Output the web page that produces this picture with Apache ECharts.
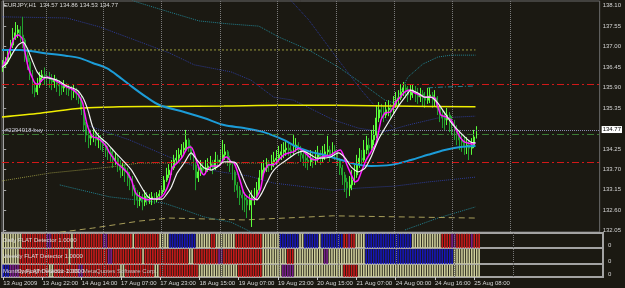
<!DOCTYPE html>
<html><head><meta charset="utf-8">
<script src="https://cdn.jsdelivr.net/npm/echarts@6/dist/echarts.min.js"></script>
<style>html,body{margin:0;padding:0;background:#1b1912;overflow:hidden}#c{width:625px;height:288px}</style>
</head><body><div id="c"></div><script>
// ---------- data ----------
const symbolTitle = 'EURJPY,H1  134.57 134.86 134.53 134.77';
const firstOpen = 136.44;
const closes = [
136.51,136.59,136.77,137.04,137.23,137.37,137.45,137.31,137.18,136.77,
136.59,136.24,135.89,135.78,135.97,136.16,136.24,136.21,136.16,136.10,
136.05,136.10,135.99,135.94,135.89,135.94,135.89,135.83,135.78,135.83,
135.73,135.62,135.30,134.89,134.62,134.54,134.60,134.65,134.49,134.54,
134.43,134.35,134.22,134.17,134.06,133.95,134.00,133.82,133.68,133.74,
133.63,133.47,133.41,133.20,133.01,132.88,132.93,132.82,132.98,132.88,
132.90,132.96,132.88,132.98,133.04,133.14,133.41,133.55,133.68,133.74,
133.95,134.00,134.09,134.22,134.27,134.49,134.27,134.09,133.82,133.47,
133.63,133.74,133.68,133.74,133.79,133.84,133.74,133.95,133.90,133.95,
134.09,134.17,133.95,133.82,133.63,133.28,133.14,133.01,132.93,132.88,
132.74,132.88,132.93,133.01,133.14,133.47,133.68,133.74,133.82,133.79,
133.90,133.95,134.00,134.09,134.17,134.22,134.27,134.22,134.17,134.30,
134.35,134.22,134.09,134.00,133.95,133.90,134.00,133.95,134.03,134.09,
134.00,134.11,134.17,134.22,134.09,134.22,134.17,133.95,133.74,133.55,
133.36,133.20,133.28,133.41,133.55,133.82,134.00,133.95,134.22,134.35,
134.27,134.49,134.62,135.08,135.30,135.24,135.16,135.30,135.35,135.24,
135.43,135.56,135.62,135.78,135.89,135.83,135.70,135.78,135.83,135.70,
135.65,135.73,135.62,135.56,135.67,135.70,135.56,135.62,135.35,135.16,
135.08,135.03,135.16,134.97,134.89,134.76,134.62,134.49,134.43,134.33,
134.35,134.27,134.35,134.57,134.77];
const highs = [
136.64,136.72,136.91,137.18,137.50,137.66,137.58,137.55,137.80,137.23,
136.91,136.69,136.37,136.05,136.16,136.32,136.37,136.44,136.32,136.32,
136.26,136.24,136.16,136.10,136.05,136.10,136.02,135.99,135.94,135.97,
135.89,135.83,135.70,135.35,134.97,134.81,134.76,134.81,134.70,134.68,
134.62,134.54,134.43,134.33,134.27,134.22,134.17,134.09,133.95,133.90,
133.84,133.74,133.63,133.52,133.28,133.14,133.09,133.04,133.14,133.09,
133.04,133.09,133.06,133.09,133.14,133.28,133.52,133.74,133.84,133.95,
134.09,134.22,134.27,134.38,134.43,134.76,134.54,134.35,134.17,133.90,
133.82,133.95,133.90,133.95,134.00,134.06,133.95,134.17,134.09,134.22,
134.49,134.38,134.22,134.06,133.90,133.68,133.36,133.25,133.14,133.09,
132.98,133.04,133.14,133.20,133.36,133.68,133.90,133.95,134.00,133.95,
134.09,134.17,134.22,134.33,134.38,134.43,134.49,134.43,134.35,134.62,
134.54,134.43,134.33,134.22,134.17,134.11,134.22,134.17,134.22,134.33,
134.22,134.33,134.38,134.60,134.33,134.43,134.35,134.22,134.00,133.82,
133.63,133.47,133.52,133.68,133.82,134.09,134.27,134.22,134.49,134.60,
134.54,134.76,134.89,135.43,135.51,135.46,135.40,135.51,135.56,135.46,
135.67,135.78,135.83,135.99,136.05,135.99,135.94,135.97,135.99,135.94,
135.89,135.89,135.83,135.78,135.89,135.89,135.78,135.83,135.67,135.43,
135.30,135.24,135.35,135.24,135.13,135.03,134.89,134.76,134.65,134.60,
134.57,134.49,134.54,134.76,134.86];
const lows = [
136.32,136.44,136.53,136.69,136.96,137.18,137.23,137.12,136.96,136.59,
136.37,136.10,135.73,135.64,135.70,135.89,136.05,135.97,135.94,135.89,
135.83,135.89,135.78,135.67,135.70,135.78,135.70,135.67,135.56,135.62,
135.56,135.46,135.16,134.70,134.43,134.27,134.35,134.43,134.33,134.27,
134.22,134.17,134.03,133.95,133.90,133.74,133.82,133.63,133.47,133.52,
133.36,133.25,133.14,132.98,132.74,132.66,132.71,132.60,132.71,132.74,
132.77,132.74,132.77,132.82,132.88,132.93,133.09,133.36,133.47,133.55,
133.68,133.84,133.90,134.00,134.09,134.22,134.17,133.95,133.68,133.14,
133.36,133.52,133.55,133.57,133.63,133.68,133.57,133.68,133.74,133.79,
133.90,133.95,133.79,133.63,133.41,133.09,132.93,132.74,132.60,132.55,
132.39,132.60,132.15,132.74,132.88,133.09,133.41,133.55,133.63,133.63,
133.68,133.76,133.82,133.90,133.95,134.00,134.06,134.06,134.00,134.09,
134.17,134.06,133.90,133.79,133.74,133.68,133.79,133.74,133.82,133.90,
133.82,133.90,133.95,134.03,133.90,134.00,133.95,133.79,133.55,133.28,
133.09,132.93,132.98,133.14,133.28,133.47,133.74,133.79,133.90,134.11,
134.09,134.22,134.35,134.54,134.97,135.03,134.97,135.08,135.13,135.08,
135.19,135.35,135.43,135.56,135.67,135.62,135.51,135.56,135.62,135.51,
135.46,135.51,135.40,135.35,135.46,135.48,135.35,135.40,135.16,134.97,
134.81,134.76,134.89,134.70,134.62,134.49,134.35,134.22,134.17,134.09,
134.11,133.95,134.09,134.27,134.53];

// moving averages: [bar position, price]
const magentaMA = [[-0.4,136.45],[1.6,136.69],[3.7,137.10],[4.9,137.26],[6.1,137.31],[7.7,137.23],[9.0,136.83],[10.2,136.45],[11.8,136.18],[13.0,136.02],[14.3,135.99],[15.9,136.10],[17.9,136.18],[20.4,136.13],[22.4,136.05],[24.5,135.97],[26.1,135.91],[28.1,135.86],[30.2,135.75],[31.4,135.64],[32.6,135.48],[33.4,135.21],[34.2,134.95],[35.5,134.70],[36.7,134.57],[38.7,134.54],[40.8,134.43],[42.4,134.30],[43.6,134.14],[44.8,134.03],[46.5,133.87],[48.5,133.76],[50.6,133.63],[52.6,133.41],[53.8,133.14],[55.0,133.01],[57.1,132.93],[59.1,132.88],[61.1,132.90],[64.0,132.93],[66.0,133.04],[68.1,133.36],[69.3,133.74],[71.3,133.87],[73.4,134.03],[75.4,134.27],[77.0,134.30],[78.3,134.14],[79.5,133.87],[81.1,133.63],[82.3,133.55],[83.6,133.68],[85.6,133.79],[88.5,133.79],[90.5,134.00],[91.7,134.03],[93.4,133.90],[94.6,133.87],[95.8,133.68],[97.4,133.33],[98.7,133.06],[100.7,132.93],[102.7,132.88],[104.0,132.96],[105.6,133.20],[106.8,133.60],[108.8,133.82],[110.9,133.82],[112.9,133.95],[115.0,134.09],[117.0,134.14],[119.0,134.17],[121.1,134.27],[122.3,134.22],[124.3,134.11],[126.4,133.98],[128.4,133.95],[130.5,134.03],[132.5,134.06],[134.5,134.09],[136.2,134.17],[138.2,134.22],[139.4,134.09],[140.6,133.87],[142.7,133.55],[144.3,133.36],[145.5,133.41],[146.8,133.63],[148.8,133.95],[150.8,134.17],[152.9,134.41],[154.9,135.03],[156.5,135.21],[158.6,135.24],[159.8,135.35],[161.0,135.51],[162.7,135.64],[164.7,135.78],[166.7,135.83],[168.8,135.75],[170.8,135.70],[172.8,135.64],[174.9,135.64],[176.9,135.62],[178.2,135.38],[179.4,135.16],[181.4,135.11],[183.5,135.03],[185.1,134.84],[186.3,134.68],[187.5,134.54],[189.2,134.43],[190.4,134.41],[192.4,134.38],[193.6,134.41]];
const whiteMA = [[-0.4,136.44],[1.6,136.56],[4.1,136.85],[6.1,137.04],[8.2,137.12],[9.8,136.96],[11.8,136.64],[13.9,136.32],[15.9,136.18],[18.3,136.16],[22.0,136.10],[26.1,135.94],[30.2,135.83],[32.6,135.64],[34.7,135.30],[36.7,134.84],[39.5,134.57],[42.4,134.41],[45.7,134.17],[48.9,133.95],[52.6,133.68],[55.0,133.41],[57.9,133.09],[59.9,132.93],[62.8,132.90],[65.2,132.90],[67.3,133.06],[68.9,133.22],[71.3,133.60],[74.2,133.87],[77.0,134.14],[79.5,133.95],[82.3,133.74],[85.2,133.68],[87.6,133.76],[90.5,133.90],[93.4,133.90],[95.4,133.87],[97.4,133.60],[99.9,133.22],[102.7,132.93],[104.0,132.88],[106.0,133.06],[108.0,133.33],[110.1,133.60],[112.1,133.76],[115.0,133.90],[117.8,134.03],[120.3,134.14],[123.1,134.19],[126.0,134.09],[128.4,134.00],[131.3,134.00],[134.1,134.03],[137.4,134.14],[140.2,134.00],[142.7,133.76],[145.5,133.63],[148.4,133.74],[150.8,134.03],[153.7,134.49],[156.5,134.81],[159.0,135.08],[161.8,135.38],[164.7,135.64],[167.1,135.83],[170.0,135.75],[172.8,135.64],[175.3,135.64],[178.2,135.48],[181.0,135.21],[183.5,134.97],[186.3,134.76],[189.2,134.57],[191.7,134.43],[193.6,134.41]];
const cyanMA = [[-0.5,136.91],[6.9,136.91],[16.3,136.83],[26.1,136.75],[31.4,136.69],[36.7,136.56],[42.4,136.42],[47.7,136.18],[53.0,135.91],[58.7,135.64],[64.0,135.43],[74.2,135.24],[82.3,135.08],[90.5,134.89],[98.7,134.81],[106.8,134.70],[115.0,134.49],[120.3,134.30],[126.0,134.17],[131.3,134.09],[138.6,133.95],[144.3,133.84],[150.8,133.79],[159.0,133.82],[167.1,133.95],[174.1,134.09],[181.0,134.22],[187.5,134.30],[193.6,134.33]];
const yellowMA = [[-0.5,135.11],[15.1,135.21],[32.6,135.35],[47.7,135.38],[68.1,135.39],[90.5,135.40],[113.8,135.42],[135.3,135.42],[160.0,135.40],[193.6,135.38]];

// band / envelope curves (dotted)
const bandUpperOuter = [[41.6,138.58],[54.6,138.20],[68.1,137.93],[80.3,137.69],[92.5,137.61],[104.8,137.55],[112.9,137.26],[125.2,136.91],[137.4,136.45],[146.8,136.02],[156.5,135.56],[160.6,135.48],[165.9,136.18],[172.0,136.53],[178.2,136.72],[183.5,136.77],[193.6,136.77]];
const bandUpper = [[-0.4,137.80],[26.1,137.77],[39.5,137.53],[51.8,137.23],[68.1,136.83],[78.3,136.51],[93.4,136.32],[101.5,136.10],[110.9,135.64],[119.0,135.56],[135.3,135.03],[145.5,134.81],[155.7,134.70],[165.9,134.89],[178.2,135.08],[193.6,135.13]];
const bandSteep = [[117.8,138.25],[125.2,137.72],[131.3,137.18],[137.4,136.64],[146.8,135.83],[153.7,135.30],[159.8,134.81]];
const bandShortUpper = [[174.1,135.89],[179.4,135.91],[193.2,135.94]];
const bandOlive = [[-0.4,133.39],[19.2,133.60],[43.6,133.76],[55.9,133.87],[68.1,133.87],[121.1,133.87]];
const bandLower = [[34.2,134.89],[51.8,134.49],[68.1,134.03],[80.3,133.74],[89.3,133.63],[100.7,133.52],[110.9,133.33],[135.3,133.14],[146.8,133.20],[160.6,133.25],[174.1,133.36],[193.6,133.49]];
const bandLowerOuter = [[23.2,133.28],[43.6,132.96],[66.0,132.79],[74.2,132.61],[82.3,132.42],[93.4,132.28],[99.9,132.07],[104.8,131.91]];
const bandLowerRight = [[164.7,132.07],[178.2,132.39],[193.6,132.69]];
const bandBottom = [[23.2,132.01],[36.7,132.12],[55.9,132.31],[68.1,132.39],[98.7,132.34],[135.3,132.45],[193.6,132.39]];
const levelOlive = [[-0.5,136.91],[193.6,136.91]];

// horizontal levels
const redLevels = [135.99, 133.90];
const stopLevel = 134.65;
const orderLevel = 134.74;
const orderText = '#2294918 buy';
const lastPrice = 134.77;

// axes
const priceTicks = [132.05,132.60,133.15,133.70,134.25,135.35,135.90,136.45,137.00,137.55,138.10];
const timeLabels = ['13 Aug 2009','13 Aug 22:00','14 Aug 14:00','17 Aug 07:00','17 Aug 23:00','18 Aug 15:00','19 Aug 07:00','19 Aug 23:00','20 Aug 15:00','21 Aug 07:00','24 Aug 00:00','24 Aug 16:00','25 Aug 08:00'];
const timeLabelBars = [0,16,32,48,64,80,96,112,128,144,160,176,192];
const gridBars = [17.5,41.2,64.8,88.9,112.5,136.6,160.2,183.9,207.9];
const totalSlots = 245;

// FLAT detector states per bar (run lengths): R red, B blue, P purple, K khaki
const dailyRuns = [['K',8],['R',10],['P',2],['R',8],['K',1],['R',12],['P',2],['R',10],['K',1],['R',10],['K',4],['B',11],['K',6],['R',2],['K',8],['R',11],['K',7],['B',8],['K',2],['B',6],['K',1],['B',9],['R',2],['P',1],['R',2],['K',4],['B',19],['K',12],['R',4],['P',2],['R',6],['P',1],['R',3]];
const weeklyRuns = [['K',7],['R',20],['K',1],['R',15],['P',2],['R',12],['K',1],['R',18],['K',2],['R',10],['P',2],['R',16],['K',10],['R',3],['K',12],['P',2],['K',15],['B',36],['K',11]];
const monthlyRuns = [['B',3],['P',4],['R',12],['K',2],['R',10],['P',2],['R',15],['K',2],['R',12],['K',2],['R',16],['K',16],['R',10],['K',8],['P',5],['K',20],['R',6],['K',50]];
const panelNames = ['Daily FLAT Detector 1.0000','Weekly FLAT Detector 1.0000','Monthly FLAT Detector 1.0000'];
const copyrightText = 'Copyright \u00a9 2001-2009, MetaQuotes Software Corp.';

// ---------- build ----------
const FONT = 'Liberation Sans';
const stateColor = {R:'#c81a1a', B:'#1616b8', P:'#7a1f8e', K:'#cdcd9a'};
function expand(runs){const a=[];runs.forEach(r=>{for(let k=0;k<r[1];k++)a.push(r[0]);});return a;}
const candles = closes.map((c,i)=>[i===0?firstOpen:closes[i-1], c, lows[i], highs[i]]);
const cats = Array.from({length: totalSlots}, (_, i) => i);

function band(data, color, type, z){
  return {type:'line', xAxisIndex:1, yAxisIndex:0, data, showSymbol:false, silent:true, z:z||1,
    lineStyle:{color, width:1, type:type||'dotted'}};
}
const vLines = gridBars.map(v=>({xAxis:v}));
function hist(runs, k){
  const st = expand(runs);
  return {type:'bar', xAxisIndex:k+2, yAxisIndex:k+2, barWidth:1.6, silent:true,
    data: st.map((s,i)=>({value:[i,1], itemStyle:{color:stateColor[s]}})),
    markLine:{symbol:'none', silent:true, label:{show:false}, lineStyle:{color:'#777', type:'dotted', width:1}, data:vLines}};
}

const panelTops = [233, 248, 264];
const panelH = [15, 16, 13];
const grids = [{left:2, top:1, width:601, height:231, show:true, borderColor:'#6a6a6a', borderWidth:1}];
for (let k=0;k<3;k++) grids.push({left:2, top:panelTops[k], width:601, height:panelH[k], show:true, borderColor:'#a3a3a3', borderWidth:2});

const xAxes = [
  {type:'category', gridIndex:0, data:cats, show:false, boundaryGap:true},
  {type:'value', gridIndex:0, min:-0.5, max:totalSlots-0.5, show:false},
  {type:'value', gridIndex:1, min:-0.5, max:totalSlots-0.5, show:false},
  {type:'value', gridIndex:2, min:-0.5, max:totalSlots-0.5, show:false},
  {type:'value', gridIndex:3, min:-0.5, max:totalSlots-0.5, position:'bottom',
    axisLine:{show:false}, splitLine:{show:false},
    axisTick:{show:true, customValues:timeLabelBars, length:3, lineStyle:{color:'#c8c8c8'}},
    axisLabel:{customValues:timeLabelBars, formatter:v=>timeLabels[timeLabelBars.indexOf(Math.round(v))], align:'left', fontSize:6, color:'#d6d6d6', margin:3, fontFamily:FONT}}
];
const yAxes = [
  {type:'value', gridIndex:0, position:'right', min:132.015, max:138.226, splitLine:{show:false},
    axisLine:{show:true, lineStyle:{color:'#a3a3a3'}},
    axisTick:{show:true, customValues:priceTicks, length:3, lineStyle:{color:'#a3a3a3'}},
    axisLabel:{customValues:priceTicks, formatter:v=>v.toFixed(2), fontSize:6, color:'#d6d6d6', margin:3, fontFamily:FONT}},
  {type:'value', gridIndex:0, position:'right', min:132.015, max:138.226, splitLine:{show:false},
    axisLine:{show:false}, axisTick:{show:false},
    axisLabel:{customValues:[lastPrice], formatter:v=>v.toFixed(2), fontSize:6, color:'#000000', backgroundColor:'#ffffff', padding:[1,1,0,1], margin:2, fontFamily:FONT}}
];
for (let k=0;k<3;k++) yAxes.push({type:'value', gridIndex:k+1, position:'right', min:0, max:1.06, splitLine:{show:false},
  axisLine:{show:true, lineStyle:{color:'#a3a3a3'}},
  axisTick:{show:true, customValues:[0], length:3, lineStyle:{color:'#a3a3a3'}},
  axisLabel:{customValues:[0], formatter:()=> '0', fontSize:6, color:'#d6d6d6', margin:5, verticalAlign:'bottom', fontFamily:FONT}});

const series = [
  band(bandUpperOuter, '#22808f'),
  band(bandUpper, '#2c3a96'),
  band(bandSteep, '#2c3a96'),
  band(bandShortUpper, '#22808f', [5,2,1,2]),
  band(bandOlive, '#8c8a3c'),
  band(bandLower, '#2c3a96'),
  band(bandLowerOuter, '#22808f'),
  band(bandLowerRight, '#22808f'),
  band(bandBottom, '#a89e5a', [6,4]),
  band(levelOlive, '#9a9a3c', [2,2]),
  {type:'line', xAxisIndex:1, yAxisIndex:0, data:[], silent:true, z:1,
    markLine:{symbol:'none', silent:true, label:{show:false},
      data:[
        ...vLines.map(d=>Object.assign({lineStyle:{color:'#7a7a7a', type:'dotted', width:1}}, d)),
        ...redLevels.map(v=>({yAxis:v, lineStyle:{color:'#d21818', type:[7,3,2,3], width:1}})),
        {yAxis:stopLevel, lineStyle:{color:'#3c7a34', type:[7,3,2,3], width:1}},
        {yAxis:orderLevel, lineStyle:{color:'#8a8ab0', type:'dotted', width:1}}
      ]}},
  {type:'candlestick', xAxisIndex:0, yAxisIndex:0, data:candles, barWidth:1.4, z:3, silent:true,
    itemStyle:{color:'#5cff3a', color0:'#1f9a2a', borderColor:'#5cff3a', borderColor0:'#22a22e', borderWidth:1}},
  {type:'line', xAxisIndex:1, yAxisIndex:0, data:yellowMA, showSymbol:false, smooth:0.3, z:4, silent:true, lineStyle:{color:'#f0ee00', width:1.5}},
  {type:'line', xAxisIndex:1, yAxisIndex:0, data:cyanMA, showSymbol:false, smooth:0.3, z:4, silent:true, lineStyle:{color:'#1c9cd8', width:2}},
  {type:'line', xAxisIndex:1, yAxisIndex:0, data:magentaMA, showSymbol:false, smooth:0.2, z:5, silent:true, lineStyle:{color:'#ff1aff', width:1.5}},
  {type:'line', xAxisIndex:1, yAxisIndex:0, data:whiteMA, showSymbol:false, smooth:0.2, z:6, silent:true, lineStyle:{color:'#f2f2f2', width:1.2}},
  hist(dailyRuns,0), hist(weeklyRuns,1), hist(monthlyRuns,2)
];

const txt = (x,y,t,extra)=>Object.assign({type:'text', left:x, top:y, silent:true, z:100,
  style:{text:t, fill:'#dcdcdc', font:'6px "'+FONT+'"'}}, extra||{});
const graphic = [
  txt(4,2,symbolTitle),
  txt(5,127,orderText,{style:{text:orderText, fill:'#c8c8d0', font:'6px "'+FONT+'"'}}),
  txt(3,237,panelNames[0]),
  txt(3,253,panelNames[1]),
  {type:'text', right:625-157, top:268, silent:true, z:100, style:{text:copyrightText, fill:'#c0c0c0', font:'6px "'+FONT+'"'}},
  txt(3,268,panelNames[2])
];

const chart = echarts.init(document.getElementById('c'), null, {renderer:'canvas'});
chart.setOption({
  backgroundColor:'#1b1912', animation:false,
  textStyle:{fontFamily:FONT},
  grid:grids, xAxis:xAxes, yAxis:yAxes, series, graphic
});
</script></body></html>
